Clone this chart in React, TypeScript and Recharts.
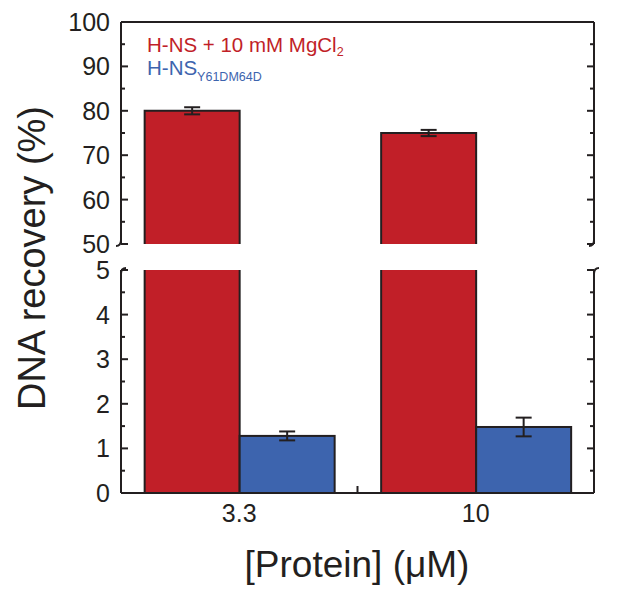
import React from "react";
import { BarChart, Bar, XAxis, YAxis, ErrorBar } from "recharts";

const categories = ["3.3", "10"];
const mgValues = [80, 75];
const mgErrors = [0.8, 0.7];
const mutantValues = [1.28, 1.48];
const mutantErrors = [0.1, 0.21];

const upperTicks = [50, 55, 60, 65, 70, 75, 80, 85, 90, 95, 100];
const lowerTicks = [0, 0.5, 1, 1.5, 2, 2.5, 3, 3.5, 4, 4.5, 5];

const upperRows = categories.map((cat, i) => ({
    cat,
    mg: mgValues[i],
    mgErr: mgErrors[i],
    mutant: null,
}));

const lowerRows = categories.map((cat, i) => ({
    cat,
    mg: mgValues[i],
    mutant: mutantValues[i],
    mutantErr: mutantErrors[i],
}));

const RED = "#c11f28";
const BLUE = "#3d64ae";
const INK = "#231f20";
const FONT = "'Liberation Sans', Arial, Helvetica, sans-serif";

// left axis tick: inward tick line + label, plus the axis break curl
const LeftTick = (props: any) => {
    const { x, y, payload, majorStep, breakValue, breakEnd } = props;
    const v = payload.value;
    const major = Math.abs(v / majorStep - Math.round(v / majorStep)) < 1e-6;
    const len = major ? 7 : 4;
    return (
        <g>
            <line x1={x} y1={y} x2={x + len} y2={y} stroke={INK} strokeWidth={2} />
            {major && (
                <text
                    x={x - 11}
                    y={y}
                    textAnchor="end"
                    dominantBaseline="central"
                    fontSize={25}
                    fontFamily={FONT}
                    fill={INK}
                >
                    {v}
                </text>
            )}
            {v === breakValue && breakEnd === "bottom" && (
                <path d={`M ${x} ${y - 4} Q ${x} ${y + 2} ${x - 5} ${y + 2}`} fill="none" stroke={INK} strokeWidth={2} />
            )}
            {v === breakValue && breakEnd === "top" && (
                <path d={`M ${x} ${y + 4} Q ${x} ${y - 2} ${x + 5} ${y - 2}`} fill="none" stroke={INK} strokeWidth={2} />
            )}
        </g>
    );
};

const RightTick = (props: any) => {
    const { x, y, payload, majorStep, breakValue, breakEnd } = props;
    const v = payload.value;
    const major = Math.abs(v / majorStep - Math.round(v / majorStep)) < 1e-6;
    const len = major ? 7 : 4;
    return (
        <g>
            <line x1={x} y1={y} x2={x - len} y2={y} stroke={INK} strokeWidth={2} />
            {v === breakValue && breakEnd === "bottom" && (
                <path d={`M ${x} ${y - 4} Q ${x} ${y + 2} ${x - 5} ${y + 2}`} fill="none" stroke={INK} strokeWidth={2} />
            )}
            {v === breakValue && breakEnd === "top" && (
                <path d={`M ${x} ${y + 4} Q ${x} ${y - 2} ${x + 5} ${y - 2}`} fill="none" stroke={INK} strokeWidth={2} />
            )}
        </g>
    );
};

const CategoryTick = (props: any) => {
    const { x, y, payload } = props;
    const half = payload.offset || 0;
    return (
        <g>
            <text
                x={x}
                y={y + 29}
                textAnchor="middle"
                fontSize={25}
                fontFamily={FONT}
                fill={INK}
            >
                {payload.value}
            </text>
            {payload.index === 0 && (
                <line x1={x + half} y1={y} x2={x + half} y2={y - 7} stroke={INK} strokeWidth={2} />
            )}
        </g>
    );
};

// upper panel bars are open at the bottom (the axis break)
const OpenBottomBar = (props: any) => {
    const { x, y, width, height, fill } = props;
    if (!height || height <= 0) return null;
    return (
        <g>
            <rect x={x} y={y} width={width} height={height} fill={fill} />
            <path
                d={`M ${x} ${y + height} L ${x} ${y} L ${x + width} ${y} L ${x + width} ${y + height}`}
                fill="none"
                stroke={INK}
                strokeWidth={2}
            />
        </g>
    );
};

const ClosedBar = (props: any) => {
    const { x, y, width, height, fill } = props;
    if (!height || height <= 0) return null;
    return <rect x={x} y={y} width={width} height={height} fill={fill} stroke={INK} strokeWidth={2} />;
};

const App = () => {
    return (
        <div style={{ position: "absolute", left: 0, top: 0, width: 617, height: 604, background: "#fff" }}>
            <div style={{ position: "absolute", left: 0, top: 0 }}>
                <BarChart
                    width={617}
                    height={260}
                    data={upperRows}
                    margin={{ top: 21, right: 22, bottom: 16, left: 120 }}
                    barCategoryGap="10%"
                    barGap={0}
                >
                    <XAxis
                        dataKey="cat"
                        orientation="top"
                        height={1}
                        tick={false}
                        tickLine={false}
                        axisLine={{ stroke: INK, strokeWidth: 2 }}
                    />
                    <YAxis
                        domain={[50, 100]}
                        ticks={upperTicks}
                        allowDataOverflow
                        width={1}
                        tickSize={0}
                        tickMargin={0}
                        tickLine={false}
                        interval={0}
                        axisLine={{ stroke: INK, strokeWidth: 2 }}
                        tick={<LeftTick majorStep={10} breakValue={50} breakEnd="bottom" />}
                    />
                    <YAxis
                        yAxisId="r"
                        orientation="right"
                        domain={[50, 100]}
                        ticks={upperTicks}
                        allowDataOverflow
                        width={1}
                        tickSize={0}
                        tickMargin={0}
                        tickLine={false}
                        interval={0}
                        axisLine={{ stroke: INK, strokeWidth: 2 }}
                        tick={<RightTick majorStep={10} breakValue={50} breakEnd="bottom" />}
                    />
                    <Bar dataKey="mg" fill={RED} shape={<OpenBottomBar />} isAnimationActive={false}>
                        <ErrorBar dataKey="mgErr" width={8} stroke={INK} strokeWidth={2} isAnimationActive={false} />
                    </Bar>
                    <Bar dataKey="mutant" fill={BLUE} shape={<OpenBottomBar />} isAnimationActive={false} />
                </BarChart>
            </div>
            <div style={{ position: "absolute", left: 0, top: 250 }}>
                <BarChart
                    width={617}
                    height={290}
                    data={lowerRows}
                    margin={{ top: 20, right: 22, bottom: 17, left: 120 }}
                    barCategoryGap="10%"
                    barGap={0}
                >
                    <XAxis
                        dataKey="cat"
                        height={30}
                        tickSize={0}
                        tickMargin={0}
                        tickLine={false}
                        interval={0}
                        axisLine={{ stroke: INK, strokeWidth: 2 }}
                        tick={<CategoryTick />}
                    />
                    <YAxis
                        domain={[0, 5]}
                        ticks={lowerTicks}
                        allowDataOverflow
                        width={1}
                        tickSize={0}
                        tickMargin={0}
                        tickLine={false}
                        interval={0}
                        axisLine={{ stroke: INK, strokeWidth: 2 }}
                        tick={<LeftTick majorStep={1} breakValue={5} breakEnd="top" />}
                    />
                    <YAxis
                        yAxisId="r"
                        orientation="right"
                        domain={[0, 5]}
                        ticks={lowerTicks}
                        allowDataOverflow
                        width={1}
                        tickSize={0}
                        tickMargin={0}
                        tickLine={false}
                        interval={0}
                        axisLine={{ stroke: INK, strokeWidth: 2 }}
                        tick={<RightTick majorStep={1} breakValue={5} breakEnd="top" />}
                    />
                    <Bar dataKey="mg" fill={RED} shape={<ClosedBar />} isAnimationActive={false} />
                    <Bar dataKey="mutant" fill={BLUE} shape={<ClosedBar />} isAnimationActive={false}>
                        <ErrorBar dataKey="mutantErr" width={8} stroke={INK} strokeWidth={2} isAnimationActive={false} />
                    </Bar>
                </BarChart>
            </div>
            <svg
                width={617}
                height={604}
                style={{ position: "absolute", left: 0, top: 0, pointerEvents: "none" }}
                fontFamily={FONT}
            >
                <text x={147} y={52} fontSize={20.5} fill={RED}>
                    H-NS + 10 mM MgCl
                    <tspan fontSize={12.5} dy={4}>2</tspan>
                </text>
                <text x={147} y={75} fontSize={20.5} fill={BLUE}>
                    H-NS
                    <tspan fontSize={12.5} dy={6}>Y61DM64D</tspan>
                </text>
                <text
                    x={0}
                    y={0}
                    transform="translate(45, 258) rotate(-90)"
                    textAnchor="middle"
                    fontSize={38}
                    fill={INK}
                >
                    DNA recovery (%)
                </text>
                <text x={357} y={577} textAnchor="middle" fontSize={37} fill={INK}>
                    [Protein] (μM)
                </text>
            </svg>
        </div>
    );
};

export default App;
